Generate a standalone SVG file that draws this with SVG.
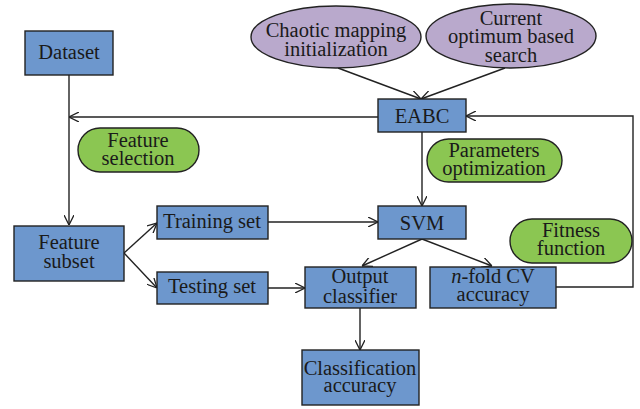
<svg xmlns="http://www.w3.org/2000/svg" width="640" height="409" viewBox="0 0 640 409">
<defs>
<marker id="arr" viewBox="0 0 10 10" refX="10" refY="5" markerWidth="10" markerHeight="10" markerUnits="userSpaceOnUse" orient="auto">
<path d="M0,0 L10,5 L0,10" fill="none" stroke="#222" stroke-width="1.3"/>
</marker>
<style>
.box{fill:#6d97cd;stroke:#222;stroke-width:1.4}
.ell{fill:#b9a9cc;stroke:#222;stroke-width:1.4}
.pill{fill:#8bc652;stroke:#222;stroke-width:1.4}
text{font-family:"Liberation Serif","Times New Roman",serif;font-size:20.5px;fill:#1a1a1a;text-anchor:middle}
.c{fill:none;stroke:#222;stroke-width:1.4}
</style>
</defs>
<rect width="640" height="409" fill="#fff"/>
<g id="connectors">
<line class="c" x1="69" y1="75" x2="69" y2="225" marker-end="url(#arr)"/>
<line class="c" x1="378" y1="117" x2="69" y2="117" marker-end="url(#arr)"/>
<line class="c" x1="338" y1="68" x2="421" y2="99" marker-end="url(#arr)"/>
<line class="c" x1="505" y1="68" x2="421" y2="99" marker-end="url(#arr)"/>
<line class="c" x1="422" y1="132" x2="422" y2="206" marker-end="url(#arr)"/>
<polyline class="c" points="556,287 633,287 633,116 466,116" marker-end="url(#arr)"/>
<line class="c" x1="124" y1="253" x2="157" y2="223" marker-end="url(#arr)"/>
<line class="c" x1="124" y1="253" x2="157" y2="288" marker-end="url(#arr)"/>
<line class="c" x1="268" y1="222" x2="378" y2="222" marker-end="url(#arr)"/>
<line class="c" x1="268" y1="288" x2="305" y2="288" marker-end="url(#arr)"/>
<line class="c" x1="422" y1="239" x2="362" y2="266" marker-end="url(#arr)"/>
<line class="c" x1="422" y1="239" x2="492" y2="266" marker-end="url(#arr)"/>
<line class="c" x1="360" y1="308" x2="360" y2="350" marker-end="url(#arr)"/>
</g>
<g id="dataset"><rect class="box" x="25" y="31" width="88" height="44"/><text x="69" y="59">Dataset</text></g>
<g id="chaotic"><ellipse class="ell" cx="336" cy="37" rx="85" ry="31"/><text x="336" y="37">Chaotic mapping</text><text x="336" y="56">initialization</text></g>
<g id="current"><ellipse class="ell" cx="511" cy="36" rx="85" ry="32"/><text x="511" y="25">Current</text><text x="511" y="43">optimum based</text><text x="511" y="62">search</text></g>
<g id="eabc"><rect class="box" x="378" y="99" width="88" height="33"/><text x="422" y="123">EABC</text></g>
<g id="feature-selection"><rect class="pill" x="78" y="128" width="121" height="44" rx="22"/><text x="138" y="147">Feature</text><text x="138" y="165">selection</text></g>
<g id="parameters-optimization"><rect class="pill" x="427" y="139" width="135" height="43" rx="21.5"/><text x="494" y="157">Parameters</text><text x="494" y="175">optimization</text></g>
<g id="feature-subset"><rect class="box" x="14" y="226" width="110" height="55"/><text x="69" y="249">Feature</text><text x="69" y="268">subset</text></g>
<g id="training-set"><rect class="box" x="157" y="206" width="111" height="33"/><text x="212" y="228">Training set</text></g>
<g id="testing-set"><rect class="box" x="157" y="272" width="111" height="32"/><text x="212" y="293">Testing set</text></g>
<g id="svm"><rect class="box" x="378" y="206" width="88" height="33"/><text x="422" y="230">SVM</text></g>
<g id="fitness-function"><rect class="pill" x="510" y="219" width="122" height="44" rx="22"/><text x="571" y="237">Fitness</text><text x="571" y="255">function</text></g>
<g id="output-classifier"><rect class="box" x="305" y="267" width="111" height="41"/><text x="360" y="283">Output</text><text x="360" y="303">classifier</text></g>
<g id="nfold-cv"><rect class="box" x="430" y="267" width="126" height="41"/><text x="493" y="283"><tspan font-style="italic">n</tspan>-fold CV</text><text x="493" y="301">accuracy</text></g>
<g id="classification-accuracy"><rect class="box" x="302" y="350" width="117" height="55"/><text x="360" y="375">Classification</text><text x="360" y="392">accuracy</text></g>
</svg>
